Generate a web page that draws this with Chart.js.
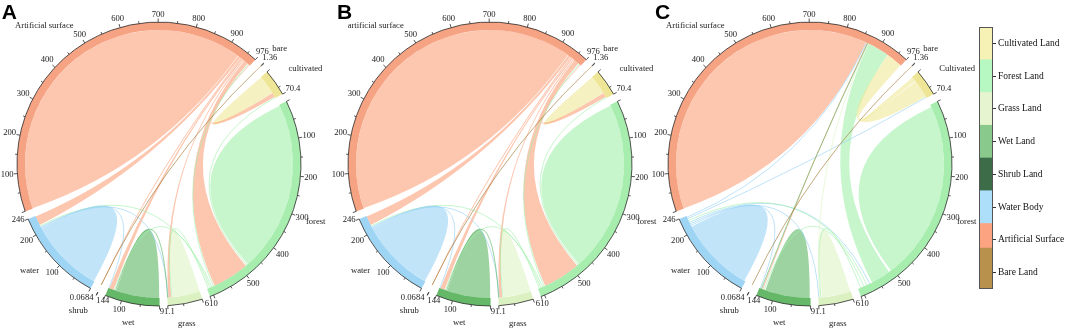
<!DOCTYPE html>
<html>
<head>
<meta charset="utf-8">
<script src="https://cdn.jsdelivr.net/npm/chart.js@4.4.1/dist/chart.umd.min.js"></script>
<style>
html,body{margin:0;padding:0;background:#fff;}
body{width:1065px;height:330px;position:relative;overflow:hidden;}
.wrap{position:absolute;width:360px;height:360px;}
.letter{position:absolute;top:0.5px;font:bold 21px/1 "Liberation Sans",Arial,sans-serif;color:#000;}
#legendWrap{position:absolute;left:960px;top:0;width:105px;height:330px;}
</style>
</head>
<body>
<div class="wrap" id="wA"><canvas id="cA" width="360" height="360"></canvas></div>
<div class="wrap" id="wB"><canvas id="cB" width="360" height="360"></canvas></div>
<div class="wrap" id="wC"><canvas id="cC" width="360" height="360"></canvas></div>
<div class="letter" style="left:1.7px">A</div>
<div class="letter" style="left:337px">B</div>
<div class="letter" style="left:655px">C</div>
<div id="legendWrap"><canvas id="cL" width="105" height="330"></canvas></div>
<script>
// ---------------- DATA ----------------
// sector order (clockwise from artificial surface)
const SECTOR_KEYS = ['art', 'bare', 'cult', 'forest', 'grass', 'wet', 'shrub', 'water'];
const SECTOR_VALUES = [976, 1.36, 70.4, 610, 91.1, 144, 0.0684, 246];
const SECTOR_END_LABELS = ['976', '1.36', '70.4', '610', '91.1', '144', '0.0684', '246'];
const NAMES_A = ['Artificial surface', 'bare', 'cultivated', 'forest', 'grass', 'wet', 'shrub', 'water'];
const NAMES_B = ['artificial surface', 'bare', 'cultivated', 'forest', 'grass', 'wet', 'shrub', 'water'];
const NAMES_C = ['Artificial surface', 'bare', 'Cultivated', 'forest', 'grass', 'wet', 'shrub', 'water'];
const MAJOR_STEP = 100;
const MINOR_STEP = 50;
// links: [fromSector, toSector, widthAtFrom, widthAtTo]
const LINKS_A = [
  [0, 0, 466, 466], [3, 3, 238, 238], [7, 7, 103, 103], [5, 5, 60, 60], [4, 4, 38, 38], [2, 2, 26, 26],
  [0, 3, 12, 102], [0, 7, 7, 26], [0, 5, 4, 12], [0, 4, 3, 8], [0, 2, 2, 12], [0, 6, 0.5, 0.03],
  [3, 7, 3, 3], [3, 5, 2, 3], [3, 4, 3, 4], [3, 2, 2, 2], [3, 0, 2, 2],
  [7, 5, 1, 1], [7, 4, 1, 1], [5, 4, 2, 2], [1, 6, 1.3, 0.03]
];
const LINKS_B = [
  [0, 0, 464, 464], [3, 3, 238, 238], [7, 7, 103, 103], [5, 5, 60, 60], [4, 4, 38, 38], [2, 2, 26, 26],
  [0, 3, 14, 104], [0, 7, 7, 26], [0, 5, 4, 12], [0, 4, 3, 8], [0, 2, 2, 12], [0, 6, 0.5, 0.03],
  [3, 7, 3, 3], [3, 5, 2, 3], [3, 4, 3, 4], [3, 2, 2, 2], [3, 0, 2, 2],
  [7, 5, 1, 1], [7, 4, 1, 1], [5, 4, 2, 2], [1, 6, 1.3, 0.03]
];
const LINKS_C = [
  [0, 0, 430, 430], [3, 3, 250, 250], [7, 7, 105, 105], [5, 5, 62, 62], [4, 4, 40, 40], [2, 2, 6, 6],
  [3, 0, 55, 60], [2, 0, 50, 45],
  [7, 2, 1, 1], [7, 3, 1.5, 1.5], [7, 4, 1, 1], [7, 5, 1, 1], [7, 0, 1, 1],
  [3, 4, 3, 3], [3, 5, 3, 3], [3, 7, 3, 3], [0, 5, 1, 1],
  [4, 0, 1, 1], [5, 0, 1, 1], [1, 6, 1.3, 0.03]
];
const LEGEND_LABELS = ['Bare Land', 'Artificial Surface', 'Water Body', 'Shrub Land', 'Wet Land', 'Grass Land', 'Forest Land', 'Cultivated Land'];
const LEGEND_SPANS = [1.25, 0.75, 1, 1, 1, 1, 1, 1];
const LEGEND_TICK_POS = [0.5, 1.5, 2.5, 3.5, 4.5, 5.5, 6.5, 7.5];

// ---------------- STYLE / LAYOUT ----------------
const BASE_RGB = [[250,160,122],[160,120,50],[240,232,150],[162,240,172],[222,244,196],[92,182,97],[60,108,72],[152,210,245]];
const BAND_RGB = [[246,163,131],[184,146,76],[238,230,150],[166,237,174],[220,241,194],[100,184,104],[60,108,72],[158,213,244]];
const LEGEND_COLORS = ['#b8924c', '#fca482', '#addefa', '#3c6c48', '#89c98c', '#e6f5cf', '#b6f7c2', '#f6f1b5'];
const RIBBON_ALPHA = 0.6;
const GAP_DEG = 3.3;
const START_DEG = 250.5;
const R_OUT = 142, R_IN = 134;
const TOTAL = SECTOR_VALUES.reduce((a, b) => a + b, 0);
const DEG_PER_UNIT = (360 - SECTOR_VALUES.length * GAP_DEG) / TOTAL;
const GAP_UNITS = GAP_DEG / DEG_PER_UNIT;
const NAME_NUDGE = [[-18, 8], [2, -1], [5, 4], [1, -3], [-2, 1], [0, 0], [-10, -1], [-6, -4]];
const END_LABEL_NUDGE = [[0, 0], [0, 0], [0, 0], [-2, -1], [-1, -2], [1, -3], [-11, -5], [0, -3]];
const FONT = '8.6px "Liberation Serif", "Times New Roman", serif';
const PAD = 180 - R_OUT;
const PANELS = [
  {id: 'A', cx: 158.5, cy: 164, names: NAMES_A, links: LINKS_A},
  {id: 'B', cx: 490, cy: 164, names: NAMES_B, links: LINKS_B},
  {id: 'C', cx: 810, cy: 164, names: NAMES_C, links: LINKS_C}
];

const rgba = (c, a) => `rgba(${c[0]},${c[1]},${c[2]},${a})`;

function chordPlugin(panel) {
  function geom(chart) {
    const meta = chart.getDatasetMeta(0);
    const arcs = SECTOR_VALUES.map((v, i) => meta.data[2 * i]);
    return {arcs, cx: arcs[0].x, cy: arcs[0].y, rin: arcs[0].innerRadius, rout: arcs[0].outerRadius};
  }
  return {
    id: 'chord' + panel.id,
    beforeDatasetsDraw(chart) {
      const {arcs, cx, cy, rin} = geom(chart);
      const ctx = chart.ctx;
      const ang = (i, u) => arcs[i].startAngle + (arcs[i].endAngle - arcs[i].startAngle) * u / SECTOR_VALUES[i];
      const mid = arcs.map(a => (a.startAngle + a.endAngle) / 2);
      const TWO = Math.PI * 2;
      const cw = (i, j) => (((mid[j] - mid[i]) % TWO) + TWO) % TWO;
      const ends = SECTOR_VALUES.map(() => []);
      const linkEnds = panel.links.map(() => [null, null]);
      panel.links.forEach((l, li) => {
        const [f, t, vf, vt] = l;
        if (f === t) {
          ends[f].push({li, side: 0, w: vf + vt, d: TWO + 0.002});
        } else {
          ends[f].push({li, side: 0, w: vf, d: cw(f, t)});
          ends[t].push({li, side: 1, w: vt, d: cw(t, f)});
        }
      });
      ends.forEach((list, i) => {
        list.sort((a, b) => b.d - a.d || a.li - b.li);
        const tot = list.reduce((s, e) => s + e.w, 0);
        const val = SECTOR_VALUES[i];
        const scale = tot > val ? val / tot : 1;
        const pad = tot < val ? (val - tot) / (list.length + 1) : 0;
        let pos = pad;
        list.forEach(e => {
          const w = e.w * scale;
          e.a0 = ang(i, pos); e.a1 = ang(i, pos + w);
          pos += w + pad;
          linkEnds[e.li][e.side] = e;
        });
      });
      const P = a => [cx + rin * Math.cos(a), cy + rin * Math.sin(a)];
      panel.links.forEach((l, li) => {
        const [e0, e1] = linkEnds[li];
        const col = BASE_RGB[l[0]];
        ctx.save();
        if (l[0] === l[1]) {
          const s0 = P(e0.a0);
          ctx.beginPath();
          ctx.moveTo(s0[0], s0[1]);
          ctx.arc(cx, cy, rin, e0.a0, e0.a1, false);
          ctx.quadraticCurveTo(cx, cy, s0[0], s0[1]);
          ctx.closePath();
          ctx.fillStyle = rgba(col, RIBBON_ALPHA);
          ctx.fill();
          ctx.restore();
          return;
        }
        const thin = Math.abs(e0.a1 - e0.a0) < 0.012 && Math.abs(e1.a1 - e1.a0) < 0.012;
        if (thin) {
          const m0 = P((e0.a0 + e0.a1) / 2), m1 = P((e1.a0 + e1.a1) / 2);
          ctx.beginPath();
          ctx.moveTo(m0[0], m0[1]);
          ctx.quadraticCurveTo(cx, cy, m1[0], m1[1]);
          ctx.strokeStyle = rgba(col, 0.7);
          ctx.lineWidth = 0.9;
          ctx.stroke();
        } else {
          const s0 = P(e0.a0), s1 = P(e1.a0);
          ctx.beginPath();
          ctx.moveTo(s0[0], s0[1]);
          ctx.arc(cx, cy, rin, e0.a0, e0.a1, false);
          ctx.quadraticCurveTo(cx, cy, s1[0], s1[1]);
          ctx.arc(cx, cy, rin, e1.a0, e1.a1, false);
          ctx.quadraticCurveTo(cx, cy, s0[0], s0[1]);
          ctx.closePath();
          ctx.fillStyle = rgba(col, RIBBON_ALPHA);
          ctx.fill();
        }
        ctx.restore();
      });
    },
    afterDatasetsDraw(chart) {
      const {arcs, cx, cy, rout} = geom(chart);
      const ctx = chart.ctx;
      ctx.save();
      ctx.font = FONT;
      ctx.fillStyle = '#1a1a1a';
      ctx.strokeStyle = '#2a2a2a';
      ctx.textAlign = 'center';
      ctx.textBaseline = 'middle';
      const place = (text, th, R, hh, nudge) => {
        const w = ctx.measureText(text).width;
        const ux = Math.cos(th), uy = Math.sin(th);
        const sup = Math.abs(ux) * w / 2 + Math.abs(uy) * hh;
        ctx.fillText(text, cx + ux * (R + sup) + (nudge ? nudge[0] : 0), cy + uy * (R + sup) + (nudge ? nudge[1] : 0));
      };
      SECTOR_VALUES.forEach((val, i) => {
        const a = arcs[i];
        const ang = u => a.startAngle + (a.endAngle - a.startAngle) * u / val;
        ctx.beginPath();
        ctx.lineWidth = 0.8;
        ctx.arc(cx, cy, rout, a.startAngle, a.endAngle, false);
        ctx.stroke();
        const ticks = [];
        for (let u = 0; u < val - 1e-9; u += MINOR_STEP) {
          const isMajor = u % MAJOR_STEP === 0;
          ticks.push({u, major: isMajor, label: (u > 0 && isMajor && val - u > 20) ? String(u) : null});
        }
        ticks.push({u: val, major: true, label: SECTOR_END_LABELS[i], end: true});
        ticks.forEach(t => {
          const th = ang(t.u);
          const len = t.major ? 3.5 : 2.2;
          ctx.beginPath();
          ctx.moveTo(cx + rout * Math.cos(th), cy + rout * Math.sin(th));
          ctx.lineTo(cx + (rout + len) * Math.cos(th), cy + (rout + len) * Math.sin(th));
          ctx.stroke();
          if (t.label) place(t.label, th, rout + 3.5, 3.6, t.end ? END_LABEL_NUDGE[i] : null);
        });
        place(panel.names[i], (a.startAngle + a.endAngle) / 2, rout + 15, 3.1, NAME_NUDGE[i]);
      });
      ctx.restore();
    }
  };
}

function makePanel(p) {
  const wrap = document.getElementById('w' + p.id);
  wrap.style.left = (p.cx - 180) + 'px';
  wrap.style.top = (p.cy - 180) + 'px';
  const data = [], colors = [];
  SECTOR_VALUES.forEach((v, i) => {
    data.push(v); colors.push(rgba(BAND_RGB[i], 1));
    data.push(GAP_UNITS); colors.push('rgba(0,0,0,0)');
  });
  new Chart(document.getElementById('c' + p.id), {
    type: 'doughnut',
    data: {labels: data.map(() => ''), datasets: [{data, backgroundColor: colors, borderWidth: 0, hoverOffset: 0, spacing: 0}]},
    options: {
      responsive: false, animation: false, devicePixelRatio: 1, events: [],
      rotation: START_DEG, cutout: R_IN,
      layout: {padding: PAD},
      plugins: {legend: {display: false}, tooltip: {enabled: false}}
    },
    plugins: [chordPlugin(p)]
  });
}
PANELS.forEach(makePanel);

const framePlugin = {
  id: 'frame',
  afterDatasetsDraw(chart) {
    const {left, top, width, height} = chart.chartArea;
    const ctx = chart.ctx;
    ctx.save();
    ctx.strokeStyle = '#555';
    ctx.lineWidth = 1;
    ctx.strokeRect(Math.round(left) + 0.5, Math.round(top) + 0.5, Math.round(width) - 1, Math.round(height) - 1);
    ctx.restore();
  }
};
new Chart(document.getElementById('cL'), {
  type: 'bar',
  data: {
    labels: [''],
    datasets: LEGEND_LABELS.map((l, i) => ({label: l, data: [LEGEND_SPANS[i]], backgroundColor: LEGEND_COLORS[i], borderWidth: 0, barPercentage: 1, categoryPercentage: 1}))
  },
  options: {
    responsive: false, animation: false, devicePixelRatio: 1, events: [],
    layout: {padding: {left: 19, top: 27, bottom: 41, right: 0}},
    plugins: {legend: {display: false}, tooltip: {enabled: false}},
    scales: {
      x: {stacked: true, display: false},
      y: {
        stacked: true, position: 'right', min: 0, max: 8,
        afterBuildTicks: ax => { ax.ticks = LEGEND_TICK_POS.map(v => ({value: v})); },
        afterFit: ax => { ax.width = 72; },
        grid: {display: true, drawOnChartArea: false, drawTicks: true, tickLength: 3, color: '#333', tickColor: '#333'},
        border: {display: false},
        ticks: {padding: 2, color: '#111', font: {family: '"Liberation Serif", "Times New Roman", serif', size: 9.5}, callback: (v, i) => LEGEND_LABELS[i]}
      }
    }
  },
  plugins: [framePlugin]
});
</script>
</body>
</html>
